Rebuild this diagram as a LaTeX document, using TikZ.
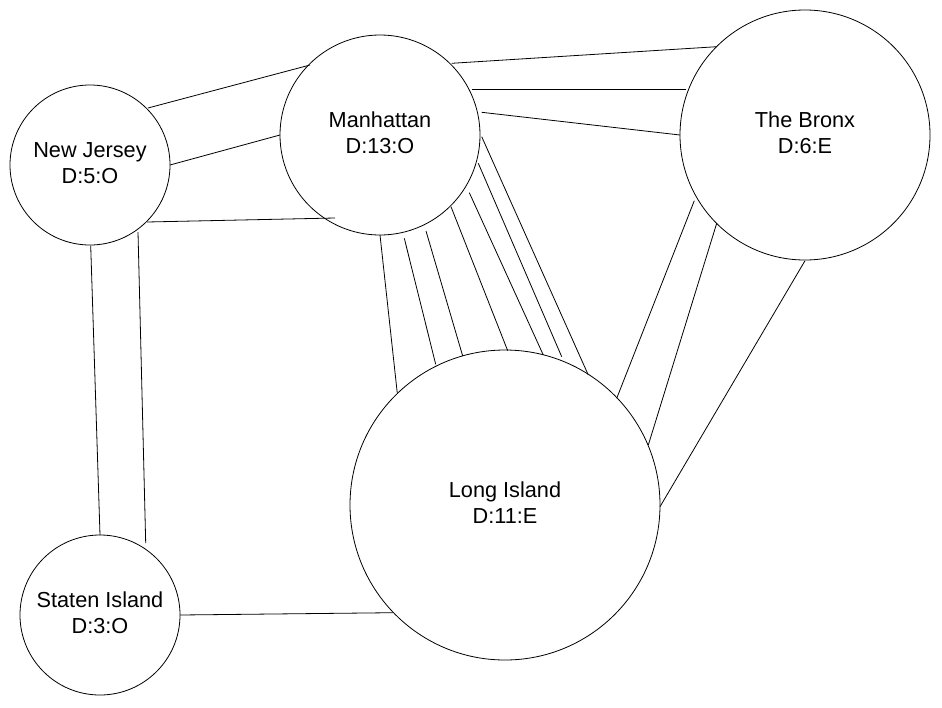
\documentclass[tikz,border=0pt]{standalone}
\usepackage{fontspec}
\setmainfont{Liberation Sans}
\usetikzlibrary{calc}
\begin{document}
\begin{tikzpicture}[x=1pt,y=-1pt,
  city/.style={circle,draw=black,line width=0.8pt,inner sep=0pt,align=center,
    text depth=4.5pt,font=\fontsize{21.7}{26}\selectfont},
  link/.style={draw=black,line width=0.8pt}]
\useasboundingbox (0,0) rectangle (942,707);
% cities
\node[city,minimum size=160pt] (nj)  at (90,165)  {New Jersey\\D:5:O};
\node[city,minimum size=200pt] (man) at (380,135) {Manhattan\\D:13:O};
\node[city,minimum size=250pt] (bx)  at (805,135) {The Bronx\\D:6:E};
\node[city,minimum size=310pt] (li)  at (505,505) {Long Island\\D:11:E};
\node[city,minimum size=160pt] (si)  at (100,615) {Staten Island\\D:3:O};
% New Jersey -- Manhattan
\draw[link] ($(nj.center)+(58,-57)$) -- ($(man.center)+(-70,-70)$);
\draw[link] ($(nj.center)+(80,0)$) -- ($(man.center)+(-100,0)$);
\draw[link] ($(nj.center)+(57,57)$) -- ($(man.center)+(-45,83)$);
% New Jersey -- Staten Island
\draw[link] ($(nj.center)+(0.7,80.6)$) -- ($(si.center)+(0,-80)$);
\draw[link] ($(nj.center)+(48,67)$) -- ($(si.center)+(45.7,-72)$);
% Staten Island -- Long Island
\draw[link] ($(si.center)+(80,0)$) -- ($(li.center)+(-112,107.7)$);
% Manhattan -- The Bronx
\draw[link] ($(man.center)+(71.7,-71.7)$) -- ($(bx.center)+(-88.3,-88.3)$);
\draw[link] ($(man.center)+(91.7,-45.7)$) -- ($(bx.center)+(-119,-45.7)$);
\draw[link] ($(man.center)+(101.7,-22.7)$) -- ($(bx.center)+(-125,0)$);
% Manhattan -- Long Island
\draw[link] ($(man.center)+(0,100)$) -- ($(li.center)+(-107.7,-111.7)$);
\draw[link] ($(man.center)+(24.3,103.3)$) -- ($(li.center)+(-69.3,-140.7)$);
\draw[link] ($(man.center)+(46,96)$) -- ($(li.center)+(-42.3,-149)$);
\draw[link] ($(man.center)+(71,71.7)$) -- ($(li.center)+(2.7,-154.3)$);
\draw[link] ($(man.center)+(89.3,57.7)$) -- ($(li.center)+(38.3,-150)$);
\draw[link] ($(man.center)+(98.3,28.3)$) -- ($(li.center)+(56.7,-148.3)$);
\draw[link] ($(man.center)+(101.7,1.7)$) -- ($(li.center)+(83.3,-130)$);
% The Bronx -- Long Island
\draw[link] ($(bx.center)+(-110.7,65.7)$) -- ($(li.center)+(111.7,-106.7)$);
\draw[link] ($(bx.center)+(-88.3,88.3)$) -- ($(li.center)+(143.3,-60)$);
\draw[link] ($(bx.center)+(0,125.7)$) -- ($(li.center)+(155,1.7)$);
\end{tikzpicture}
\end{document}
